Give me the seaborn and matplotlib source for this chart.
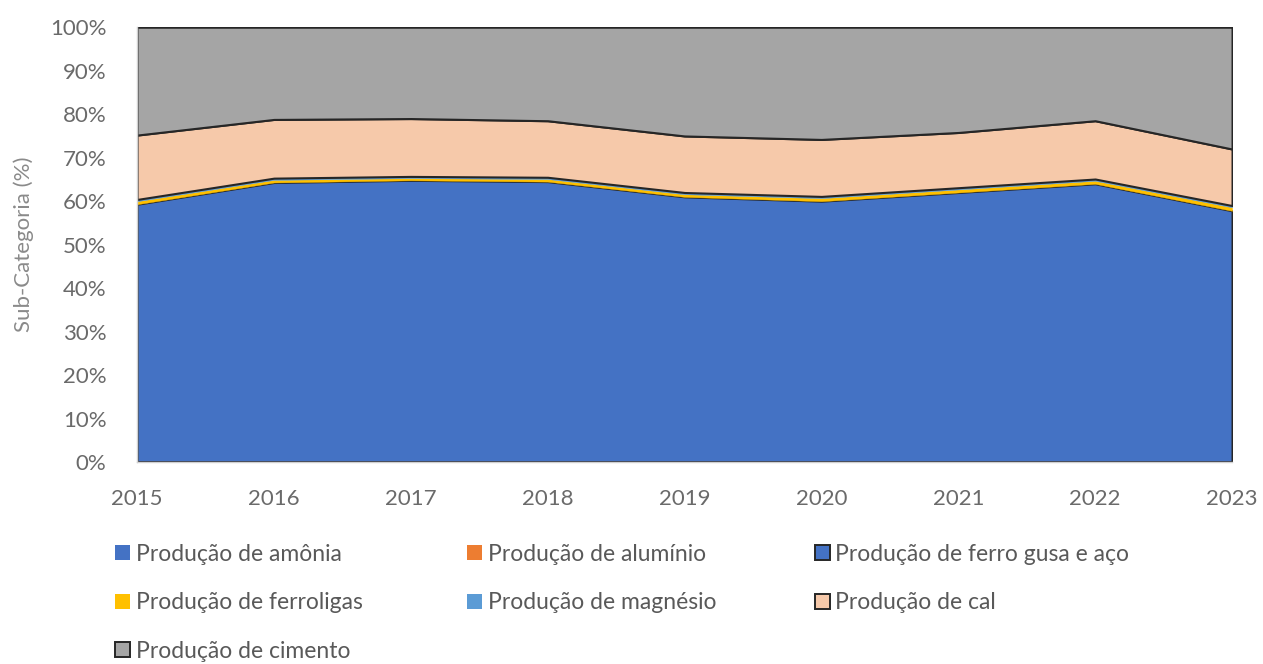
import numpy as np
import pandas as pd
import matplotlib
matplotlib.use('Agg')
import matplotlib.pyplot as plt
from matplotlib.patches import Patch
import seaborn as sns

# data (share of each sub-category, %)
years = [2015, 2016, 2017, 2018, 2019, 2020, 2021, 2022, 2023]
amonia = [0.1, 0.1, 0.1, 0.1, 0.1, 0.1, 0.1, 0.1, 0.1]
aluminio = [0.0, 0.0, 0.0, 0.0, 0.0, 0.0, 0.0, 0.0, 0.0]
ferro_gusa = [59.2, 64.2, 64.7, 64.4, 60.9, 59.9, 61.9, 63.9, 57.7]
ferroligas = [0.7, 0.6, 0.5, 0.6, 0.6, 0.7, 0.7, 0.7, 0.8]
magnesio = [0.4, 0.4, 0.4, 0.4, 0.4, 0.4, 0.4, 0.4, 0.4]
cal = [14.8, 13.5, 13.3, 13.0, 13.0, 13.1, 12.7, 13.4, 13.0]
cimento = [24.8, 21.2, 21.0, 21.5, 25.0, 25.8, 24.2, 21.5, 28.0]

labels = ['Produção de amônia', 'Produção de alumínio', 'Produção de ferro gusa e aço',
          'Produção de ferroligas', 'Produção de magnésio', 'Produção de cal',
          'Produção de cimento']
colors = ['#4472C4', '#ED7D31', '#4472C4', '#FFC000', '#5B9BD5', '#F6C9AA', '#A5A5A5']
edges = [None, None, '#262626', None, None, '#262626', '#262626']

df = pd.DataFrame({'ano': years, labels[0]: amonia, labels[1]: aluminio,
                   labels[2]: ferro_gusa, labels[3]: ferroligas, labels[4]: magnesio,
                   labels[5]: cal, labels[6]: cimento}).set_index('ano')
df = df.div(df.sum(axis=1), axis=0) * 100

sns.set_theme(style='white')
plt.rcParams['font.family'] = ['Lato', 'DejaVu Sans']

fig = plt.figure(figsize=(12.63, 6.64), dpi=100)
ax = fig.add_axes([0.1085, 0.304, 0.867, 0.655])

polys = ax.stackplot(df.index, [df[c].values for c in labels], colors=colors)
for p, e in zip(polys, edges):
    if e is None:
        p.set_edgecolor(p.get_facecolor())
        p.set_linewidth(0.3)
    else:
        p.set_edgecolor(e)
        p.set_linewidth(1.5)

ax.set_xlim(years[0], years[-1])
ax.set_ylim(0, 100)
ax.set_xticks(years)
ax.set_yticks(np.arange(0, 101, 10))
ax.set_yticklabels([f'{v}%' for v in range(0, 101, 10)])
ax.tick_params(axis='both', length=0, labelsize=16, colors='#6a6a6a')
ax.tick_params(axis='y', pad=22)
ax.tick_params(axis='x', pad=19)
ax.set_ylabel('Sub-Categoria (%)', fontsize=16, color='#8a8a8a')
ax.yaxis.set_label_coords(-0.094, 0.5)
for s in ['top', 'right']:
    ax.spines[s].set_visible(False)
for s in ['left', 'bottom']:
    ax.spines[s].set_color('#d0d0d0')
    ax.spines[s].set_linewidth(1)

handles = [Patch(facecolor=c, edgecolor=(e if e else c), linewidth=(1.4 if e else 0))
           for c, e in zip(colors, edges)]
cols = [[0, 3, 6], [1, 4], [2, 5]]
xs = [0.091, 0.37, 0.645]
for idx, x in zip(cols, xs):
    leg = fig.legend([handles[i] for i in idx], [labels[i] for i in idx],
                     loc='upper left', bbox_to_anchor=(x, 0.181), frameon=False,
                     fontsize=16.5, handlelength=0.65, handleheight=0.65,
                     handletextpad=0.25, labelspacing=1.2, borderaxespad=0,
                     borderpad=0)
    for t in leg.get_texts():
        t.set_color('#595959')

fig.savefig('out.png', dpi=100)
